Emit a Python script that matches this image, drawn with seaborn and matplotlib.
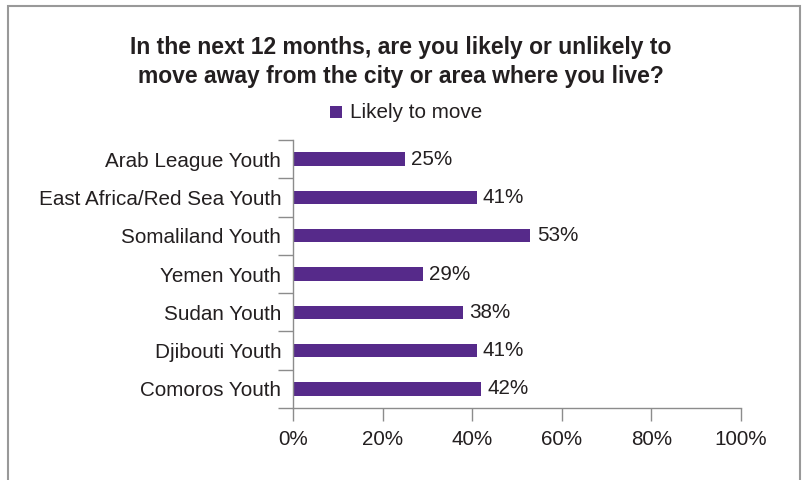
import pandas as pd
import matplotlib.pyplot as plt
import seaborn as sns
from matplotlib.patches import Rectangle

# Datos
groups = ["Arab League Youth", "East Africa/Red Sea Youth", "Somaliland Youth",
          "Yemen Youth", "Sudan Youth", "Djibouti Youth", "Comoros Youth"]
likely = [25, 41, 53, 29, 38, 41, 42]
xticks = [0, 20, 40, 60, 80, 100]

df = pd.DataFrame({"group": groups, "likely": likely})

sns.set_style("white")
plt.rcParams['font.family'] = ['Liberation Sans', 'DejaVu Sans']

purple = "#562A8A"
text_c = "#231F20"
axis_c = "#8C8C8C"
fs = 14.9

fig = plt.figure(figsize=(8.02, 4.8), dpi=100)
ax = fig.add_axes([293/802, 1-408/480, (741-293)/802, (408-140)/480])

sns.barplot(ax=ax, data=df, x="likely", y="group", color=purple, width=0.35,
            saturation=1, orient="h", edgecolor="none", linewidth=0)

for i, v in enumerate(likely):
    ax.text(v + 1.4, i, f"{v}%", va="center", ha="left", fontsize=fs, color=text_c)

ax.set_xlim(0, 100)
ax.set_ylim(len(groups) - 0.5, -0.5)
ax.set_xticks(xticks)
ax.set_xticklabels([f"{t}%" for t in xticks], fontsize=fs, color=text_c)
ax.set_yticks(range(len(groups)))
ax.set_yticklabels(groups, fontsize=fs, color=text_c)
ax.set_xlabel("")
ax.set_ylabel("")

# ticks del eje y entre categorias
ax.set_yticks([i - 0.5 for i in range(len(groups) + 1)], minor=True)
ax.tick_params(axis="y", which="major", left=True, length=0, pad=8.5)
ax.tick_params(axis="y", which="minor", left=True, length=11, color=axis_c, direction="out", width=1)
ax.tick_params(axis="x", bottom=True, length=9, color=axis_c, width=1, pad=7, direction="out")

for s in ["top", "right"]:
    ax.spines[s].set_visible(False)
for s in ["left", "bottom"]:
    ax.spines[s].set_color(axis_c)
    ax.spines[s].set_linewidth(1)

fig.text(0.5, 1 - 62/480, "In the next 12 months, are you likely or unlikely to\nmove away from the city or area where you live?",
         ha="center", va="center", fontsize=16.5, fontweight="bold", color=text_c,
         linespacing=1.3)

# leyenda
fig.patches.append(Rectangle((330/802, 1-118/480), 12/802, 12/480, transform=fig.transFigure,
                             facecolor=purple, edgecolor="none"))
fig.text(350/802, 1-112/480, "Likely to move", ha="left", va="center", fontsize=fs, color=text_c)

# borde
fig.patches.append(Rectangle((8/802, -0.1), (800-8)/802, 1.1 - 6/480, transform=fig.transFigure,
                             facecolor="none", edgecolor="#999999", linewidth=1.5))

fig.savefig("out.png", dpi=100)
